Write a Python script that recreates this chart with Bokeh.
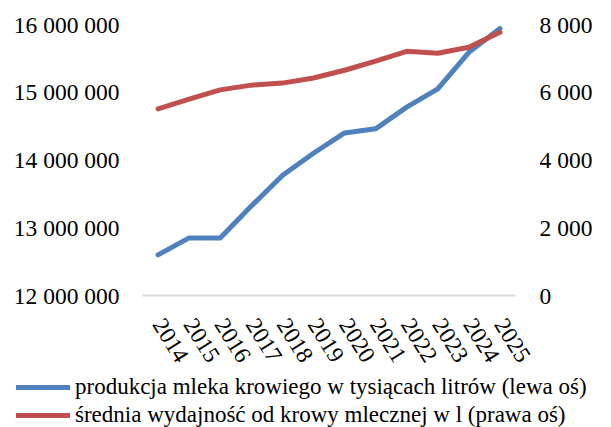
import math
from bokeh.plotting import figure
from bokeh.models import (Range1d, LinearAxis, FixedTicker, CustomJSTickFormatter,
                          Legend, LegendItem, FactorRange)
from bokeh.embed import file_html
from bokeh.resources import INLINE

years = ["2014", "2015", "2016", "2017", "2018", "2019", "2020", "2021",
         "2022", "2023", "2024", "2025"]
production = [12600000, 12850000, 12850000, 13320000, 13770000, 14100000,
              14400000, 14460000, 14780000, 15050000, 15590000, 15940000]
yield_per_cow = [5510, 5800, 6070, 6210, 6270, 6420, 6650, 6920, 7210, 7150,
                 7330, 7770]
left_ticks = [12000000, 13000000, 14000000, 15000000, 16000000]
right_ticks = [0, 2000, 4000, 6000, 8000]
label_prod = "produkcja mleka krowiego w tysiącach litrów (lewa oś)"
label_yield = "średnia wydajność od krowy mlecznej w l (prawa oś)"

FONT = "Liberation Serif"
FS = "23.5px"
BLUE = "#4f81bd"
RED = "#c0504d"

p = figure(width=595, height=371, x_range=FactorRange(*years),
           y_range=Range1d(12000000, 16000000),
           output_backend="svg", toolbar_location=None,
           min_border_left=142, min_border_right=79, min_border_top=24,
           min_border_bottom=74)
p.extra_y_ranges = {"right": Range1d(0, 8000)}
p.outline_line_color = None
p.xgrid.grid_line_color = None
p.ygrid.grid_line_color = None

fmt = CustomJSTickFormatter(code="""
return tick.toFixed(0).replace(/\\B(?=(\\d{3})+(?!\\d))/g, " ");
""")

yl = p.yaxis[0]
yl.ticker = FixedTicker(ticks=left_ticks)
yl.formatter = fmt
yl.axis_line_color = None
yl.major_tick_line_color = None
yl.minor_tick_line_color = None
yl.major_label_standoff = 17
yl.major_label_text_font = FONT
yl.major_label_text_font_size = FS
yl.major_label_text_color = "#000000"

yr = LinearAxis(y_range_name="right", ticker=FixedTicker(ticks=right_ticks),
                formatter=fmt)
yr.axis_line_color = None
yr.major_tick_line_color = None
yr.minor_tick_line_color = None
yr.major_label_standoff = 18
yr.major_label_text_font = FONT
yr.major_label_text_font_size = FS
yr.major_label_text_color = "#000000"
p.add_layout(yr, "right")

xa = p.xaxis[0]
xa.axis_line_color = "#d9d9d9"
xa.axis_line_width = 2
xa.major_tick_line_color = None
xa.minor_tick_line_color = None
xa.major_label_orientation = math.radians(-58)
xa.major_label_standoff = 19
xa.major_label_text_font = FONT
xa.major_label_text_font_size = FS
xa.major_label_text_color = "#000000"

p.line(years, production, line_color=BLUE, line_width=5,
       line_cap="round", line_join="round")
p.line(years, yield_per_cow, line_color=RED, line_width=5,
       line_cap="round", line_join="round", y_range_name="right")

# legend strip below the chart (series drawn out of view; only keys shown)
lg = figure(width=595, height=56, x_range=FactorRange(*years),
            y_range=Range1d(-2, -1),
            x_axis_location=None, y_axis_location=None,
            output_backend="svg", toolbar_location=None,
            min_border_left=0, min_border_right=0, min_border_top=0,
            min_border_bottom=0)
lg.grid.visible = False
lg.outline_line_color = None
k1 = lg.line(years, production, line_color=BLUE, line_width=5, line_cap="round")
k2 = lg.line(years, yield_per_cow, line_color=RED, line_width=5, line_cap="round")
legend = Legend(items=[LegendItem(label=label_prod, renderers=[k1]),
                       LegendItem(label=label_yield, renderers=[k2])],
                location=(16, -1), orientation="vertical",
                padding=0, margin=0, spacing=2, glyph_width=54,
                glyph_height=20, label_height=20, label_standoff=5,
                label_text_font=FONT, label_text_font_size="23px",
                label_text_color="#000000",
                border_line_color=None, background_fill_alpha=0)
lg.add_layout(legend, "center")

open("out.html", "w").write(file_html([p, lg], INLINE))
